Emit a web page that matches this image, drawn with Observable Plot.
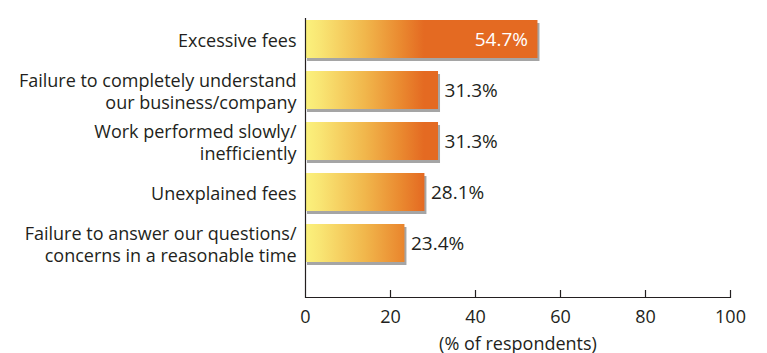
<!DOCTYPE html>
<html><head><meta charset="utf-8">
<script src="https://cdn.jsdelivr.net/npm/d3@7"></script>
<script src="https://cdn.jsdelivr.net/npm/@observablehq/plot@0.6"></script>
<style>body{margin:0;background:#fff;} svg{font-family:"Open Sans",sans-serif;}</style>
</head><body><div id="chart"></div>
<script>
const categories = [
  "Excessive fees",
  "Failure to completely understand\nour business/company",
  "Work performed slowly/\ninefficiently",
  "Unexplained fees",
  "Failure to answer our questions/\nconcerns in a reasonable time"
];
const values = [54.7, 31.3, 31.3, 28.1, 23.4];
const xTicks = [0, 20, 40, 60, 80, 100];
const xLabel = "(% of respondents)";

const data = categories.map((c, i) => ({category: c, value: values[i]}));
const ink = "#231f20";

const gradientDefs = (index, scales) => {
  const ns = "http://www.w3.org/2000/svg";
  const defs = document.createElementNS(ns, "defs");
  const g = document.createElementNS(ns, "linearGradient");
  g.setAttribute("id", "barGrad");
  g.setAttribute("gradientUnits", "userSpaceOnUse");
  g.setAttribute("x1", scales.x(0));
  g.setAttribute("x2", scales.x(28));
  g.setAttribute("y1", 0);
  g.setAttribute("y2", 0);
  [[0, "#fbf27d"], [0.12, "#f9e674"], [0.5, "#f1b74c"], [0.8, "#ea8a30"], [1, "#e46a22"]].forEach(([o, c]) => {
    const s = document.createElementNS(ns, "stop");
    s.setAttribute("offset", o);
    s.setAttribute("stop-color", c);
    g.appendChild(s);
  });
  defs.appendChild(g);
  return defs;
};

const plot = Plot.plot({
  width: 767,
  height: 353,
  marginTop: 18,
  marginBottom: 56,
  marginLeft: 305,
  marginRight: 37,
  style: {fontFamily: "'Open Sans', sans-serif", fontSize: "18px", color: ink},
  x: {domain: [0, 100], ticks: xTicks},
  y: {domain: categories, paddingInner: 0.25, paddingOuter: 0.347, align: 0.056},
  marks: [
    gradientDefs,
    Plot.barX(data, {x: "value", y: "category", fill: "#a5a5a5", dx: 2, dy: 3}),
    Plot.barX(data, {x: "value", y: "category", fill: "url(#barGrad)"}),
    Plot.ruleX([0], {stroke: ink, strokeWidth: 1.2}),
    Plot.frame({anchor: "bottom", stroke: ink, strokeWidth: 1.2}),
    Plot.ruleX(xTicks.slice(1), {stroke: ink, strokeWidth: 1.2, insetTop: 272}),
    Plot.axisX({ticks: xTicks, tickSize: 0, tickPadding: 13, fontSize: 18, label: xLabel, labelAnchor: "center", labelArrow: "none", labelOffset: 52, color: ink}),
    Plot.axisY({tickSize: 0, tickPadding: 9, fontSize: 18, label: null, lineHeight: 1.22, color: ink}),
    Plot.text(data.filter(d => d.value > 50), {x: "value", y: "category", text: d => d.value.toFixed(1) + "%", textAnchor: "end", dx: -10, fill: "white", fontSize: 19}),
    Plot.text(data.filter(d => d.value <= 50), {x: "value", y: "category", text: d => d.value.toFixed(1) + "%", textAnchor: "start", dx: 6, fill: ink, fontSize: 19})
  ]
});
document.getElementById("chart").appendChild(plot);
</script>
</body></html>
